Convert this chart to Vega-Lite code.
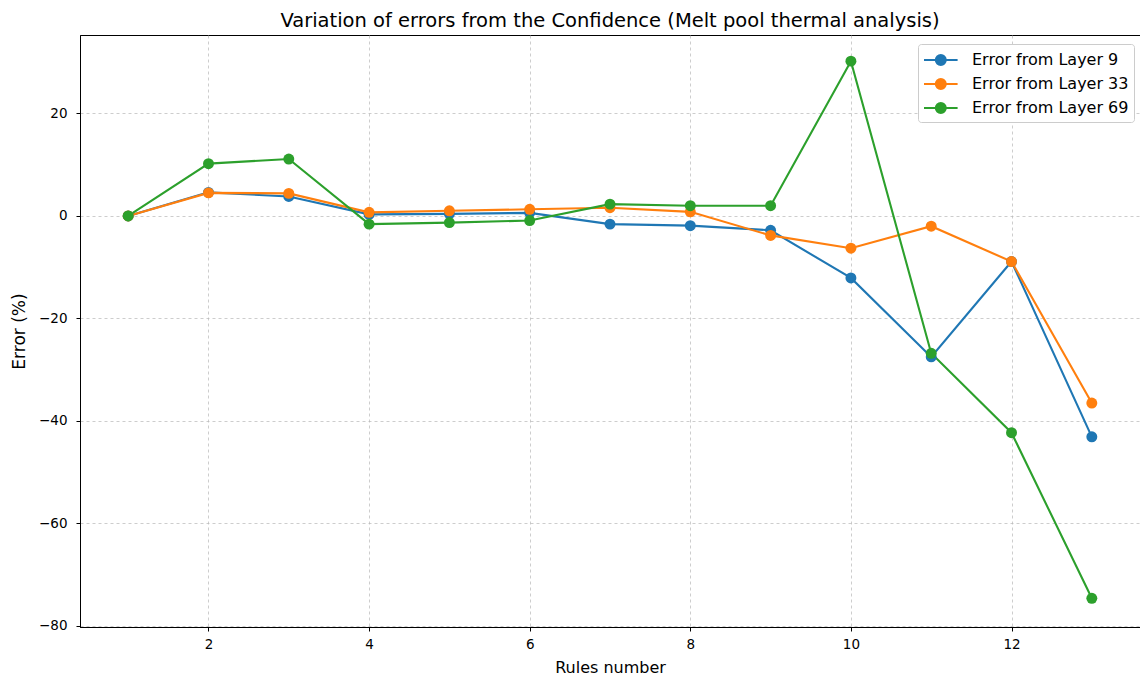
{
  "$schema": "https://vega.github.io/schema/vega-lite/v6.json",
  "width": 1060,
  "height": 592,
  "autosize": {"type": "none"},
  "padding": {"left": 80, "top": 35, "right": 0, "bottom": 54},
  "background": "white",
  "title": {"text": "Variation of errors from the Confidence (Melt pool thermal analysis)", "font": "DejaVu Sans", "fontSize": 19.5, "fontWeight": "normal", "color": "#000000", "offset": 4, "anchor": "middle"},
  "config": {
    "view": {"stroke": "#000000", "strokeWidth": 1},
    "axis": {"labelFont": "DejaVu Sans", "titleFont": "DejaVu Sans", "labelFontSize": 13.5, "titleFontSize": 16, "titleFontWeight": "normal", "labelColor": "#000000", "titleColor": "#000000", "tickColor": "#000000", "domainColor": "#000000", "tickSize": 4, "gridColor": "#b8b8b8", "gridDash": [3, 3], "gridWidth": 0.7}
  },
  "data": {"values": [
    {"rule": 1, "err": 0, "series": "Error from Layer 9"},
    {"rule": 2, "err": 4.6, "series": "Error from Layer 9"},
    {"rule": 3, "err": 3.8, "series": "Error from Layer 9"},
    {"rule": 4, "err": 0.3, "series": "Error from Layer 9"},
    {"rule": 5, "err": 0.4, "series": "Error from Layer 9"},
    {"rule": 6, "err": 0.6, "series": "Error from Layer 9"},
    {"rule": 7, "err": -1.6, "series": "Error from Layer 9"},
    {"rule": 8, "err": -1.9, "series": "Error from Layer 9"},
    {"rule": 9, "err": -2.8, "series": "Error from Layer 9"},
    {"rule": 10, "err": -12.1, "series": "Error from Layer 9"},
    {"rule": 11, "err": -27.5, "series": "Error from Layer 9"},
    {"rule": 12, "err": -8.9, "series": "Error from Layer 9"},
    {"rule": 13, "err": -43.1, "series": "Error from Layer 9"},
    {"rule": 1, "err": 0, "series": "Error from Layer 33"},
    {"rule": 2, "err": 4.5, "series": "Error from Layer 33"},
    {"rule": 3, "err": 4.4, "series": "Error from Layer 33"},
    {"rule": 4, "err": 0.7, "series": "Error from Layer 33"},
    {"rule": 5, "err": 1.0, "series": "Error from Layer 33"},
    {"rule": 6, "err": 1.3, "series": "Error from Layer 33"},
    {"rule": 7, "err": 1.6, "series": "Error from Layer 33"},
    {"rule": 8, "err": 0.8, "series": "Error from Layer 33"},
    {"rule": 9, "err": -3.8, "series": "Error from Layer 33"},
    {"rule": 10, "err": -6.3, "series": "Error from Layer 33"},
    {"rule": 11, "err": -2.0, "series": "Error from Layer 33"},
    {"rule": 12, "err": -8.9, "series": "Error from Layer 33"},
    {"rule": 13, "err": -36.5, "series": "Error from Layer 33"},
    {"rule": 1, "err": 0, "series": "Error from Layer 69"},
    {"rule": 2, "err": 10.2, "series": "Error from Layer 69"},
    {"rule": 3, "err": 11.1, "series": "Error from Layer 69"},
    {"rule": 4, "err": -1.6, "series": "Error from Layer 69"},
    {"rule": 5, "err": -1.3, "series": "Error from Layer 69"},
    {"rule": 6, "err": -0.9, "series": "Error from Layer 69"},
    {"rule": 7, "err": 2.3, "series": "Error from Layer 69"},
    {"rule": 8, "err": 2.0, "series": "Error from Layer 69"},
    {"rule": 9, "err": 2.0, "series": "Error from Layer 69"},
    {"rule": 10, "err": 30.2, "series": "Error from Layer 69"},
    {"rule": 11, "err": -26.8, "series": "Error from Layer 69"},
    {"rule": 12, "err": -42.3, "series": "Error from Layer 69"},
    {"rule": 13, "err": -74.6, "series": "Error from Layer 69"}
  ]},
  "mark": {"type": "line", "strokeWidth": 2.1, "point": {"filled": true, "size": 120, "opacity": 1}},
  "encoding": {
    "x": {"field": "rule", "type": "quantitative", "title": "Rules number", "scale": {"domain": [0.4, 13.6], "nice": false, "zero": false}, "axis": {"values": [2, 4, 6, 8, 10, 12], "labelPadding": 6, "titlePadding": 9}},
    "y": {"field": "err", "type": "quantitative", "title": "Error (%)", "scale": {"domain": [-80.2, 35.3], "nice": false, "zero": false}, "axis": {"values": [-80, -60, -40, -20, 0, 20], "labelPadding": 9, "titlePadding": 10, "titleFontSize": 17}},
    "color": {"field": "series", "type": "nominal", "sort": ["Error from Layer 9", "Error from Layer 33", "Error from Layer 69"],
      "scale": {"domain": ["Error from Layer 9", "Error from Layer 33", "Error from Layer 69"], "range": ["#1f77b4", "#ff7f0e", "#2ca02c"]},
      "legend": {"title": null, "orient": "none", "legendX": 838, "legendY": 9, "labelFont": "DejaVu Sans", "labelFontSize": 16, "labelColor": "#000000", "symbolType": "M-1,0H2.36M0.18,0A0.5,0.5,0,1,1,1.18,0A0.5,0.5,0,1,1,0.18,0Z", "symbolSize": 400, "symbolStrokeWidth": 2, "rowPadding": 4, "labelOffset": 27, "padding": 5, "strokeColor": "#cccccc", "fillColor": "#ffffff", "cornerRadius": 3,
        "encode": {"symbols": {"update": {"fill": {"scale": "color", "field": "value"}, "fillOpacity": {"value": 1}}}}}
    }
  }
}
